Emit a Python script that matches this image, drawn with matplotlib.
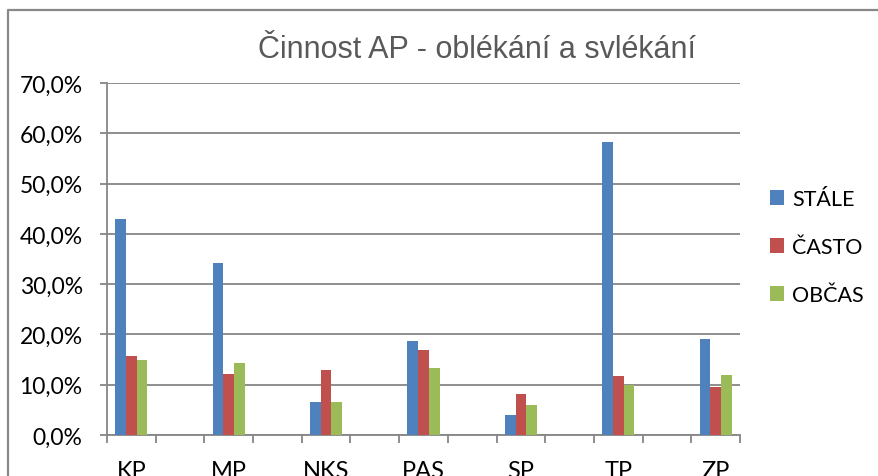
#!/usr/bin/env python3

import numpy as np
import matplotlib
matplotlib.use('Agg')
import matplotlib.pyplot as plt
from matplotlib.patches import Patch
from matplotlib.lines import Line2D

# data (fractions)
categories = ['KP', 'MP', 'NKS', 'PAS', 'SP', 'TP', 'ZP']
stale = [0.429, 0.343, 0.065, 0.186, 0.040, 0.583, 0.190]
casto = [0.158, 0.121, 0.129, 0.169, 0.081, 0.117, 0.096]
obcas = [0.149, 0.143, 0.065, 0.134, 0.060, 0.099, 0.119]
series_names = ['STÁLE', 'ČASTO', 'OBČAS']
colors = ['#4F81BD', '#C0504D', '#9BBB59']
yticks = [0.0, 0.1, 0.2, 0.3, 0.4, 0.5, 0.6, 0.7]

grid_col = '#868686'
plt.rcParams['font.family'] = ['Lato', 'DejaVu Sans']

fig = plt.figure(figsize=(8.79, 4.77), dpi=100)
ax = fig.add_axes([107/879, 1-436/477, (740-107)/879, (436-84)/477])

# every category sits in every other slot (blank slots in between)
x = np.arange(len(categories)) * 2
w = 0.22
for i, vals in enumerate([stale, casto, obcas]):
    ax.bar(x + (i - 1) * w, vals, width=w, color=colors[i], zorder=3)

ax.set_xlim(-0.5, 2 * len(categories) - 1.5)
ax.set_ylim(0, 0.7)
ax.set_yticks(yticks)
ax.set_yticklabels([('%.1f%%' % (v * 100)).replace('.', ',') for v in yticks], fontsize=16.5)
ax.yaxis.grid(True, color=grid_col, linewidth=1.3, zorder=0)

ax.set_xticks(np.arange(-0.5, 2 * len(categories) - 1, 1.0))
ax.set_xticklabels([])
ax.set_xticks(x, minor=True)
ax.set_xticklabels(categories, minor=True, fontsize=17)
ax.tick_params(axis='x', which='minor', length=0, pad=18)
ax.tick_params(axis='x', which='major', length=6, width=1.3, color=grid_col)
ax.tick_params(axis='y', length=5, width=1.3, color=grid_col, pad=12.5)

for s in ['top', 'right']:
    ax.spines[s].set_visible(False)
for s in ['left', 'bottom']:
    ax.spines[s].set_color(grid_col)
    ax.spines[s].set_linewidth(1.3)

fig.text(477/879, 1-58/477, 'Činnost AP - oblékání a svlékání', ha='center', va='baseline',
         fontsize=22, color='#595959', family=['Liberation Sans', 'DejaVu Sans'])

handles = [Patch(facecolor=c, edgecolor='none') for c in colors]
fig.legend(handles, series_names, loc='center left', bbox_to_anchor=(770/879, 1-248/477),
           frameon=False, fontsize=15.5, handlelength=0.65, handleheight=0.65,
           handletextpad=0.38, labelspacing=1.3, borderaxespad=0, borderpad=0)

# outer chart border (bottom edge is cropped off)
fig.add_artist(Line2D([8/879, 8/879, 1], [0, 1-11/477, 1-11/477], color='#888888',
                      linewidth=1.6, transform=fig.transFigure))

fig.savefig('out.png', dpi=100)
